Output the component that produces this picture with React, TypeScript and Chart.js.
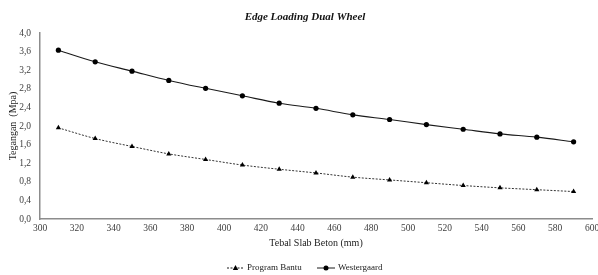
import React, { useEffect, useRef } from "react";
import { Chart, registerables } from "chart.js";
Chart.register(...registerables);

const chartTitle = "Edge Loading Dual Wheel";
const xAxisTitle = "Tebal Slab Beton (mm)";
const yAxisTitle = "Tegangan  (Mpa)";
const seriesNames = ["Program Bantu", "Westergaard"];
const thickness = [310, 330, 350, 370, 390, 410, 430, 450, 470, 490, 510, 530, 550, 570, 590];
const programBantu = [1.96, 1.73, 1.56, 1.4, 1.28, 1.16, 1.07, 0.99, 0.9, 0.84, 0.78, 0.72, 0.67, 0.63, 0.59];
const westergaard = [3.63, 3.38, 3.18, 2.98, 2.81, 2.65, 2.49, 2.38, 2.24, 2.14, 2.03, 1.93, 1.83, 1.76, 1.66];

const SERIF = "'Liberation Serif', 'Times New Roman', serif";
const LINE_COLOR = "#1a1a1a";
const TEXT_COLOR = "#404040";

const overlayPlugin = {
  id: "overlay",
  afterDraw(chart: any) {
    const ctx = chart.ctx as CanvasRenderingContext2D;
    ctx.save();
    // Title
    ctx.font = `italic bold 11px ${SERIF}`;
    ctx.fillStyle = "#111";
    ctx.textAlign = "center";
    ctx.textBaseline = "middle";
    ctx.fillText(chartTitle, 305, 17);

    // Legend
    const y = 268;
    const items = [
      { x0: 227, x1: 244, dash: [2, 1.5], style: "triangle", text: seriesNames[0], tx: 247 },
      { x0: 317, x1: 335, dash: [], style: "circle", text: seriesNames[1], tx: 338 },
    ];
    ctx.font = `9px ${SERIF}`;
    ctx.textAlign = "left";
    for (const it of items) {
      ctx.strokeStyle = LINE_COLOR;
      ctx.lineWidth = 1;
      ctx.setLineDash(it.dash);
      ctx.beginPath();
      ctx.moveTo(it.x0, y);
      ctx.lineTo(it.x1, y);
      ctx.stroke();
      ctx.setLineDash([]);
      const cx = (it.x0 + it.x1) / 2;
      ctx.fillStyle = "#000";
      ctx.beginPath();
      if (it.style === "circle") {
        ctx.arc(cx, y, 2.5, 0, Math.PI * 2);
      } else {
        ctx.moveTo(cx, y - 3);
        ctx.lineTo(cx + 2.7, y + 2);
        ctx.lineTo(cx - 2.7, y + 2);
        ctx.closePath();
      }
      ctx.fill();
      ctx.fillStyle = "#222";
      ctx.fillText(it.text, it.tx, y);
    }
    ctx.restore();
  },
};

export default function App() {
  const ref = useRef<HTMLCanvasElement | null>(null);
  useEffect(() => {
    if (!ref.current) return;
    const chart = new Chart(ref.current, {
      type: "line",
      data: {
        datasets: [
          {
            label: seriesNames[0],
            data: thickness.map((x, i) => ({ x, y: programBantu[i] })),
            borderColor: "#333",
            borderWidth: 1,
            borderDash: [2, 1.5],
            pointStyle: "triangle",
            pointRadius: 3,
            pointBackgroundColor: "#000",
            pointBorderColor: "#000",
            pointBorderWidth: 0,
            cubicInterpolationMode: "monotone",
            fill: false,
          },
          {
            label: seriesNames[1],
            data: thickness.map((x, i) => ({ x, y: westergaard[i] })),
            borderColor: LINE_COLOR,
            borderWidth: 1.1,
            pointStyle: "circle",
            pointRadius: 2.6,
            pointBackgroundColor: "#000",
            pointBorderColor: "#000",
            pointBorderWidth: 0,
            cubicInterpolationMode: "monotone",
            fill: false,
          },
        ],
      },
      options: {
        responsive: false,
        animation: false,
        devicePixelRatio: 1,
        layout: { padding: { top: 33, right: 6, bottom: 26, left: 0 } },
        plugins: {
          legend: { display: false },
          title: { display: false },
          tooltip: { enabled: false },
        },
        scales: {
          x: {
            type: "linear",
            min: 300,
            max: 600,
            grid: { display: false, drawTicks: false },
            border: { display: true, color: "#8c8c8c", width: 1.5 },
            ticks: {
              stepSize: 20,
              padding: 4,
              color: TEXT_COLOR,
              font: { family: SERIF, size: 9.5 },
              maxRotation: 0,
              autoSkip: false,
              callback: (v: any) => String(v),
            },
            title: {
              display: true,
              text: xAxisTitle,
              color: "#222",
              font: { family: SERIF, size: 10 },
              padding: { top: 2, bottom: 0 },
            },
            afterFit: (s: any) => {
              s.height = 30;
              s.paddingRight = 0;
              s.paddingLeft = 0;
            },
          },
          y: {
            min: 0,
            max: 4,
            grid: { display: false, drawTicks: false },
            border: { display: true, color: "#8c8c8c", width: 1.5 },
            ticks: {
              stepSize: 0.4,
              padding: 9,
              color: TEXT_COLOR,
              font: { family: SERIF, size: 9.5 },
              callback: (v: any) => Number(v).toFixed(1).replace(".", ","),
            },
            title: {
              display: true,
              text: yAxisTitle,
              color: "#222",
              font: { family: SERIF, size: 10 },
              padding: { top: 7, bottom: 0 },
            },
            afterFit: (s: any) => {
              s.width = 40;
            },
          },
        },
      },
      plugins: [overlayPlugin],
    } as any);
    return () => chart.destroy();
  }, []);
  return (
    <div style={{ position: "absolute", left: 0, top: 0, width: 598, height: 275, background: "#fff" }}>
      <canvas ref={ref} width={598} height={275} style={{ width: 598, height: 275, display: "block" }} />
    </div>
  );
}
